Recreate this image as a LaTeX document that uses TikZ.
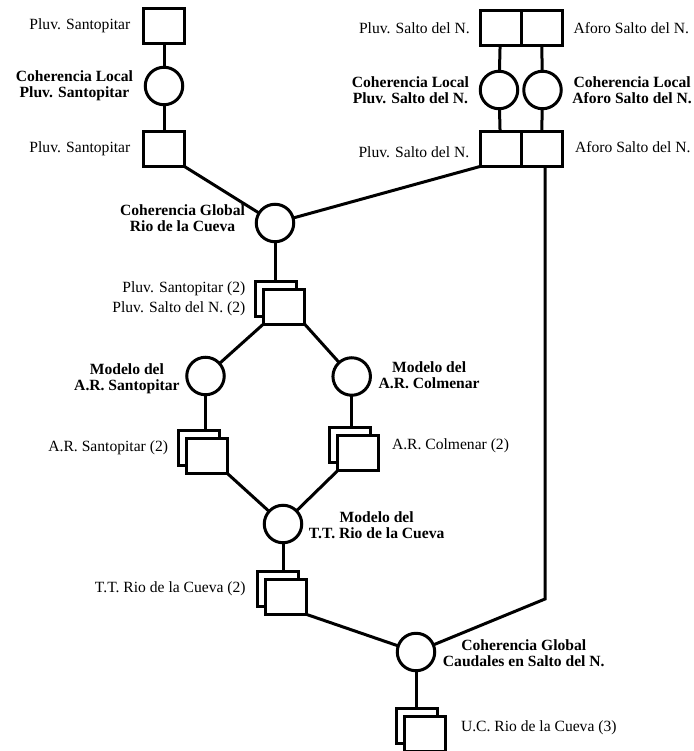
\documentclass[tikz,border=0pt]{standalone}
\usepackage{fontspec}
\setmainfont{Liberation Serif}
\usetikzlibrary{positioning}
\tikzset{
  sqbox/.style   ={rectangle, draw=black, line width=3pt, fill=white, inner sep=0pt, outer sep=0pt,
                   minimum width=41pt, minimum height=35pt},
  sqfront/.style ={sqbox, xshift=8pt, yshift=-8pt},
  chkcirc/.style ={circle, draw=black, line width=3pt, fill=white, inner sep=0pt, outer sep=0pt,
                   minimum size=37.5pt},
  plbl/.style    ={inner sep=0pt, align=center, font=\fontsize{15.6}{16}\selectfont},
  blbl/.style    ={inner sep=0pt, align=center, font=\fontsize{15.6}{16}\selectfont\bfseries},
  link/.style    ={line width=3pt, draw=black, line join=miter},
}
\begin{document}
\begin{tikzpicture}[x=10pt, y=10pt]
  \useasboundingbox (0,0) rectangle (69.3,-75.1);
  % columna Santopitar
  \node[sqbox]   (ps1)  at (16.4,-2.6)  {};
  \node[chkcirc] (clps) at (16.4,-8.6)  {};
  \node[sqbox]   (ps2)  at (16.4,-14.9) {};
  % columnas Salto del N.
  \node[sqbox]   (psn1)  at (50.05,-2.8) {};
  \node[sqbox, right=0pt of psn1] (asn1) {};
  \node[chkcirc] (clpsn) at (49.9,-9.0)  {};
  \node[chkcirc] (clasn) at (54.25,-9.0) {};
  \node[sqbox]   (psn2)  at (50.05,-14.9) {};
  \node[sqbox, right=0pt of psn2] (asn2) {};
  % coherencia global y modelos
  \node[chkcirc] (cgrc)  at (27.5,-22.3) {};
  \node[sqbox]   (spsnb) at (27.6,-29.85) {};
  \node[sqfront] (spsn)  at (spsnb) {};
  \node[chkcirc] (cmars) at (20.55,-37.6) {};
  \node[chkcirc] (cmarc) at (35.17,-37.65) {};
  \node[sqbox]   (sarsb) at (19.87,-44.78) {};
  \node[sqfront] (sars)  at (sarsb) {};
  \node[sqbox]   (sarcb) at (35.03,-44.5) {};
  \node[sqfront] (sarc)  at (sarcb) {};
  \node[chkcirc] (cmtt)  at (28.3,-52.4) {};
  \node[sqbox]   (sttb)  at (27.83,-58.9) {};
  \node[sqfront] (stt)   at (sttb) {};
  \node[chkcirc] (cgcs)  at (41.6,-65.2) {};
  \node[sqbox]   (sucb)  at (41.73,-72.6) {};
  \node[sqfront] (suc)   at (sucb) {};
  \coordinate (bend) at (54.5,-59.9);
  % etiquetas
  \node[plbl, left=13pt of ps1]   (ps1l)  {Pluv. Santopitar};
  \node[blbl, left=12pt of clps]  (clpsl) {Coherencia Local\\Pluv. Santopitar};
  \node[plbl, left=13pt of ps2]   (ps2l)  {Pluv. Santopitar};
  \node[plbl, left=10pt of psn1]  (psn1l) {Pluv. Salto del N.};
  \node[plbl, right=11.5pt of asn1] (asn1l) {Aforo Salto del N.};
  \node[blbl, left=11pt of clpsn] (clpsnl) {Coherencia Local\\Pluv. Salto del N.};
  \node[blbl, right=11pt of clasn] (clasnl) {Coherencia Local\\Aforo Salto del N.};
  \node[plbl, left=10.5pt of psn2, yshift=-3pt] (psn2l) {Pluv. Salto del N.};
  \node[plbl, right=13pt of asn2, yshift=2pt]   (asn2l) {Aforo Salto del N.};
  \node[blbl, left=11pt of cgrc, yshift=5pt]    (cgrcl) {Coherencia Global\\Rio de la Cueva};
  \node[plbl, align=right, left=10pt of spsnb]  (spsnl) {Pluv. Santopitar (2)\\[3.5pt]Pluv. Salto del N. (2)};
  \node[blbl, left=7pt of cmars, yshift=-2.5pt] (cmarsl) {Modelo del\\A.R. Santopitar};
  \node[blbl, right=8pt of cmarc, yshift=1pt]   (cmarcl) {Modelo del\\A.R. Colmenar};
  \node[plbl, left=10pt of sarsb]               (sarsl) {A.R. Santopitar (2)};
  \node[plbl, right=13pt of sarc, yshift=7pt]   (sarcl) {A.R. Colmenar (2)};
  \node[blbl, right=7pt of cmtt, yshift=-1pt]   (cmttl) {Modelo del\\T.T. Rio de la Cueva};
  \node[plbl, left=12pt of sttb]                (sttl)  {T.T. Rio de la Cueva (2)};
  \node[blbl, right=8pt of cgcs, yshift=-1pt]   (cgcsl) {Coherencia Global\\Caudales en Salto del N.};
  \node[plbl, right=15pt of suc, yshift=6pt]    (sucl)  {U.C. Rio de la Cueva (3)};
  % enlaces
  \draw[link] (ps1) -- (clps) -- (ps2);
  \draw[link] (psn1) -- (clpsn) -- (psn2);
  \draw[link] (asn1) -- (clasn) -- (asn2);
  \draw[link] (ps2.south east) -- (cgrc);
  \draw[link] (cgrc) -- (psn2.south west);
  \draw[link] (cgrc) -- (cgrc |- spsnb.north);
  \draw[link] (spsn.south west) -- (cmars);
  \draw[link] (spsn.south east) -- (cmarc);
  \draw[link] (cmars) -- (cmars |- sarsb.north);
  \draw[link] (cmarc) -- (cmarc |- sarcb.north);
  \draw[link] (sars.south east) -- (cmtt);
  \draw[link] (sarc.south west) -- (cmtt);
  \draw[link] (cmtt) -- (cmtt |- sttb.north);
  \draw[link] (stt.south east) -- (cgcs);
  \draw[link] (cgcs) -- (bend) -- (bend |- asn2.south);
  \draw[link] (cgcs) -- (cgcs |- sucb.north);
\end{tikzpicture}
\end{document}
